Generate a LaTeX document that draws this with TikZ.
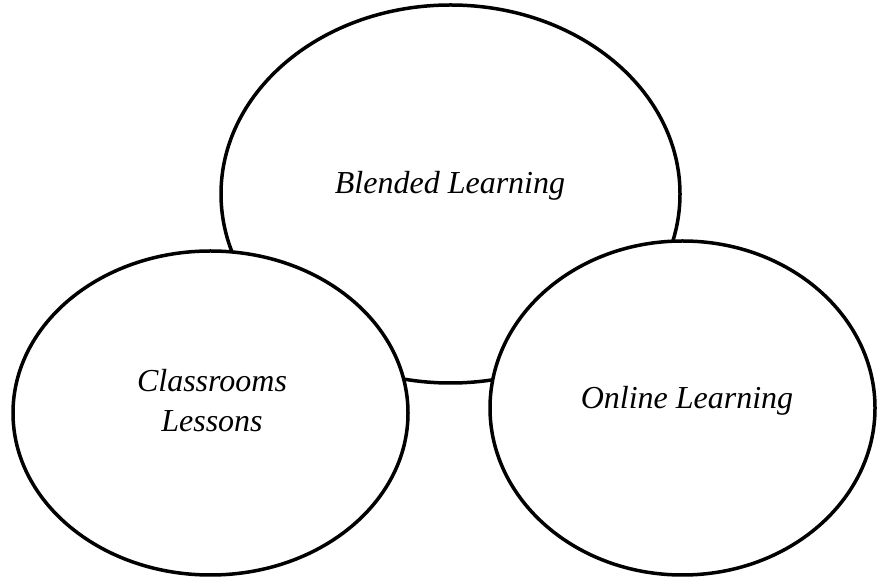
\documentclass[tikz,border=0pt]{standalone}
\usepackage{fontspec}
\setmainfont{Liberation Serif}
\usetikzlibrary{shapes.geometric}

\tikzset{
  bubble/.style={draw, ellipse, line width=3.5pt, fill=white, inner sep=0pt},
  label/.style={font=\fontsize{32}{40}\selectfont\itshape, inner sep=0pt, anchor=base}
}

\begin{document}
\begin{tikzpicture}[x=1pt,y=1pt]
\useasboundingbox (0,0) rectangle (877,580);
% the three circles, top one first so the others cover it
\node [bubble, minimum width=459pt, minimum height=378pt] (blended) at (450.5,386) {};
\node [bubble, minimum width=395pt, minimum height=324pt] (classroom) at (210.5,167) {};
\node [bubble, minimum width=385pt, minimum height=334pt] (online) at (682.5,172) {};

\node [label] (blendedtxt) at (450,386) {Blended Learning};
\node [label] (classtxt) at (212,188) {Classrooms};
\node [label] (lessontxt) at (212,148) {Lessons};
\node [label] (onlinetxt) at (687,171) {Online Learning};
\end{tikzpicture}
\end{document}
